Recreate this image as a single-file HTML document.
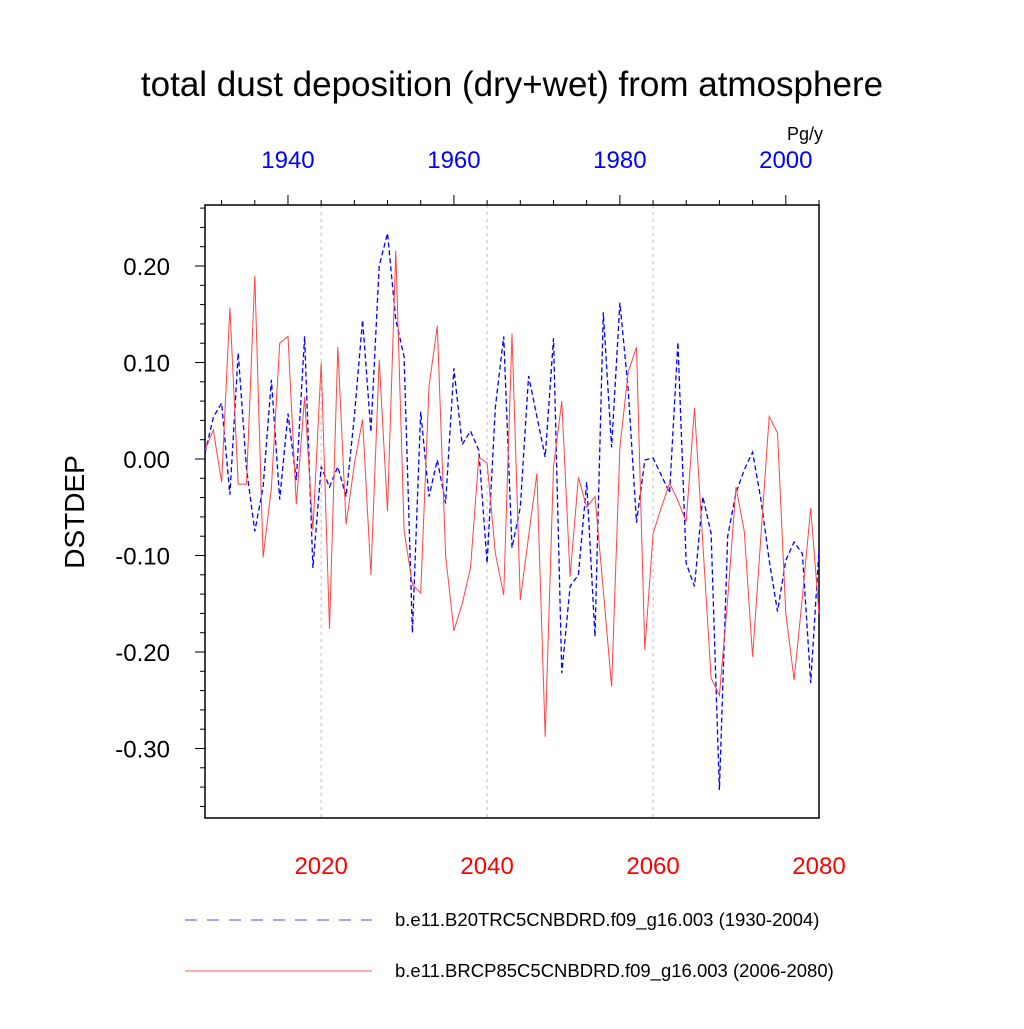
<!DOCTYPE html>
<html><head><meta charset="utf-8"><style>
body{margin:0;background:#fff}
svg text{font-family:"Liberation Sans",sans-serif}
</style></head><body>
<svg id="c" width="1024" height="1024" viewBox="0 0 1024 1024">
<text x="512" y="96" font-size="35" text-anchor="middle">total dust deposition (dry+wet) from atmosphere</text>
<text x="805" y="140" font-size="18" text-anchor="middle">Pg/y</text>
<text transform="translate(84,512) rotate(-90)" font-size="28" text-anchor="middle">DSTDEP</text>
<g id="grid"></g><g id="axes"></g><g id="series"></g>
<g>
<line x1="185" y1="920" x2="372" y2="920" stroke="#00f" stroke-width="1" stroke-dasharray="12,10" opacity="0.7"/>
<text x="395" y="926" font-size="18.5">b.e11.B20TRC5CNBDRD.f09_g16.003 (1930-2004)</text>
<line x1="185" y1="971" x2="372" y2="971" stroke="#f33" stroke-width="1" opacity="0.8"/>
<text x="395" y="977" font-size="18.5">b.e11.BRCP85C5CNBDRD.f09_g16.003 (2006-2080)</text>
</g>
</svg>
<script>
const redYears0 = 2006;
const blueYears0 = 1930;
const redValues = [0.009,0.03,-0.024,0.157,-0.026,-0.026,0.19,-0.102,-0.03,0.12,0.127,-0.047,0.064,-0.074,0.10,-0.176,0.116,-0.068,-0.005,0.041,-0.12,0.103,-0.054,0.216,-0.074,-0.13,-0.139,0.075,0.138,-0.10,-0.178,-0.15,-0.113,0.002,-0.004,-0.098,-0.141,0.13,-0.146,-0.08,-0.015,-0.288,-0.008,0.06,-0.122,-0.019,-0.05,-0.039,-0.136,-0.236,0.012,0.09,0.116,-0.198,-0.077,-0.05,-0.025,-0.043,-0.065,0.053,-0.087,-0.227,-0.245,-0.145,-0.029,-0.075,-0.205,-0.08,0.044,0.027,-0.16,-0.229,-0.143,-0.051,-0.16];
const blueValues = [0.006,0.043,0.058,-0.037,0.11,-0.01,-0.075,-0.029,0.082,-0.042,0.047,-0.022,0.127,-0.113,-0.008,-0.029,-0.008,-0.039,0.045,0.144,0.028,0.2,0.234,0.144,0.106,-0.18,0.049,-0.039,-0.001,-0.046,0.094,0.015,0.029,0.009,-0.108,0.054,0.127,-0.092,-0.05,0.086,0.044,0.002,0.125,-0.222,-0.132,-0.12,-0.024,-0.184,0.152,0.012,0.162,0.072,-0.066,-0.001,0.001,-0.017,-0.035,0.121,-0.108,-0.132,-0.039,-0.077,-0.343,-0.08,-0.035,-0.011,0.007,-0.042,-0.105,-0.158,-0.105,-0.086,-0.098,-0.232,-0.094];
const yTicks = [0.2,0.1,0.0,-0.1,-0.2,-0.3];
const yTickLabels = ["0.20","0.10","0.00","-0.10","-0.20","-0.30"];
const bottomTicks = [2020,2040,2060,2080];
const topTicks = [1940,1960,1980,2000];

const L=205,R=819,T=205,B=818;
const xR = y => L + (y-2006)*(R-L)/74;
const xB = y => L + (y-1930)*(R-L)/74;
const yS = v => 459 - v*965;
const NS="http://www.w3.org/2000/svg";
function mk(tag, attrs, parent){const e=document.createElementNS(NS,tag);for(const k in attrs)e.setAttribute(k,attrs[k]);parent.appendChild(e);return e;}
const axes=document.getElementById('axes'), grid=document.getElementById('grid'), series=document.getElementById('series');
const frame=mk('rect',{x:L,y:T,width:R-L,height:B-T,fill:'none',stroke:'#000','stroke-width':1.5},axes);


for(const yr of [2020,2040,2060]){
  const g=mk('line',{x1:xR(yr),x2:xR(yr),y1:T,y2:B,stroke:'#bbb','stroke-dasharray':'3,4'},grid);
  
  
}
for(let v=-0.36;v<=0.26;v+=0.02){
  const y=yS(v); if(y<T||y>B) continue;
  const major=yTicks.some(t=>Math.abs(t-v)<1e-6);
  const t=mk('line',{x1:L-(major?10:5),x2:L,y1:y,y2:y,stroke:'#000'},axes);
  
  
}
yTicks.forEach((v,i)=>{
  const t=mk('text',{x:170,y:yS(v)+9,'font-size':24,'text-anchor':'end'},axes);t.textContent=yTickLabels[i];
  
  
});
for(let yr=1932;yr<=2004;yr+=4){
  const x=xB(yr); const major=yr%20===0;
  const t=mk('line',{x1:x,x2:x,y1:T-(major?10:5),y2:T,stroke:'#000'},axes);
  
  
}
topTicks.forEach(yr=>{
  const t=mk('text',{x:xB(yr),y:168,'font-size':24,'text-anchor':'middle',fill:'#00f'},axes);t.textContent=yr;
  
  
});
bottomTicks.forEach(yr=>{
  const t=mk('text',{x:xR(yr),y:874,'font-size':24,'text-anchor':'middle',fill:'#f00'},axes);t.textContent=yr;
  
  
});
const bp=blueValues.map((v,i)=>xB(blueYears0+i).toFixed(1)+','+yS(v).toFixed(1)).join(' ');
const bl=mk('polyline',{points:bp,fill:'none',stroke:'#00f','stroke-width':1.3,'stroke-dasharray':'5,3'},series);


const rp=redValues.map((v,i)=>xR(redYears0+i).toFixed(1)+','+yS(v).toFixed(1)).join(' ');
const rl=mk('polyline',{points:rp,fill:'none',stroke:'#f44','stroke-width':1},series);


</script>
</body></html>
